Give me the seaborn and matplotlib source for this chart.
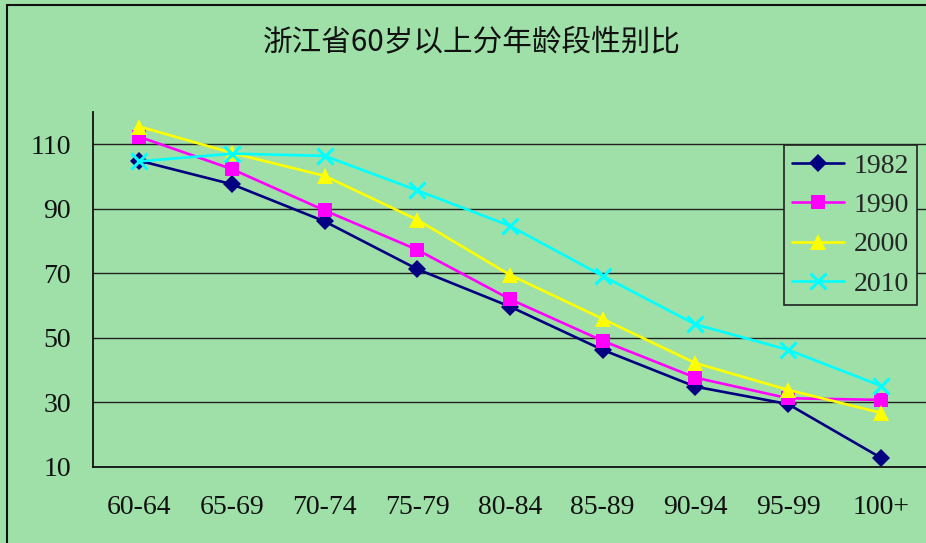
import matplotlib
matplotlib.use("Agg")
import matplotlib.pyplot as plt
import seaborn as sns
import pandas as pd
from matplotlib.patches import Rectangle
from matplotlib.ticker import FixedLocator
from matplotlib.lines import Line2D

# ---- data ----
categories = ["60-64", "65-69", "70-74", "75-79", "80-84", "85-89", "90-94", "95-99", "100+"]
years = ["1982", "1990", "2000", "2010"]
v1982 = [104.9, 97.6, 86.1, 71.3, 59.7, 46.3, 34.9, 29.5, 12.9]
v1990 = [112.3, 102.3, 89.5, 77.3, 62.0, 49.1, 37.7, 31.3, 30.8]
v2000 = [115.5, 107.3, 100.2, 86.6, 69.5, 55.9, 42.2, 33.9, 26.8]
v2010 = [104.7, 107.1, 106.4, 95.7, 84.7, 69.2, 54.2, 46.3, 35.2]
yticks = [10, 30, 50, 70, 90, 110]
title = "浙江省60岁以上分年龄段性别比"

series = {"1982": v1982, "1990": v1990, "2000": v2000, "2010": v2010}
rows = []
for yr in years:
    for c, v in zip(categories, series[yr]):
        rows.append({"age": c, "year": yr, "ratio": v})
df = pd.DataFrame(rows)

bg = "#9EE0A8"
sns.set_theme(style="white")
plt.rcParams["font.family"] = ["Liberation Serif", "DejaVu Serif"]

W, H = 926, 543
fig = plt.figure(figsize=(W / 100, H / 100), dpi=100, facecolor=bg)
ax = fig.add_axes([93 / W, 1 - 467 / H, (927 - 93) / W, (467 - 112) / H])
ax.set_facecolor(bg)

palette = {"1982": "#000080", "1990": "#FF00FF", "2000": "#FFFF00", "2010": "#00FFFF"}
markers = {"1982": "D", "1990": "s", "2000": "^", "2010": "X"}

sns.lineplot(data=df, x="age", y="ratio", hue="year", style="year",
             palette=palette, markers=markers, dashes=False, sort=False,
             linewidth=1.9, ax=ax, legend=False)

sizes = {"1982": 9, "1990": 10.5, "2000": 11, "2010": 11}
for line, yr in zip(ax.get_lines(), years):
    line.set_markersize(sizes[yr])
    line.set_markeredgewidth(0)
    if yr == "2010":
        line.set_marker("x")
        line.set_markeredgewidth(2.2)
    line.set_markerfacecolor(palette[yr])
    line.set_markeredgecolor(palette[yr])

ax.set_xlim(-0.5, len(categories) - 0.5)
ax.set_ylim(10, 120)
ax.set_yticks(yticks)
ax.set_xlabel("")
ax.set_ylabel("")
ax.yaxis.grid(True, color="#222222", linewidth=1.0)
ax.xaxis.grid(False)
ax.set_axisbelow(True)

for s in ["top", "right"]:
    ax.spines[s].set_visible(False)
for s in ["left", "bottom"]:
    ax.spines[s].set_color("#111111")
    ax.spines[s].set_linewidth(1.3)

ax.tick_params(axis="y", length=0, pad=16, labelsize=20, colors="#111111")
ax.tick_params(axis="x", which="major", length=0, pad=20, labelsize=20, colors="#111111")
ax.xaxis.set_minor_locator(FixedLocator([i + 0.5 for i in range(len(categories) - 1)]))
ax.tick_params(axis="x", which="minor", direction="in", length=6.5, width=1.0, color="#111111")

# legend
handles = []
for yr in years:
    m = markers[yr] if yr != "2010" else "x"
    handles.append(Line2D([], [], color=palette[yr], linewidth=1.9, marker=m,
                          markersize=sizes[yr], markerfacecolor=palette[yr],
                          markeredgecolor=palette[yr],
                          markeredgewidth=2.2 if yr == "2010" else 0))
leg = fig.legend(handles, years, loc="upper left",
                 bbox_to_anchor=(784 / W, 1 - 145 / H), bbox_transform=fig.transFigure,
                 fontsize=20, frameon=True, fancybox=False, borderaxespad=0,
                 borderpad=0.3, labelspacing=0.5, handlelength=1.85, handletextpad=0.35)
leg.get_frame().set_facecolor(bg)
leg.get_frame().set_edgecolor("#222222")
leg.get_frame().set_linewidth(1.2)
leg.get_frame().set_alpha(1)

fig.text(472 / W, 1 - 42 / H, title, ha="center", va="center", fontsize=21.3,
         family=["Noto Sans CJK SC", "DejaVu Sans"], color="#111111")

# outer chart border
fig.patches.append(Rectangle((7 / W, -0.05), 1.1, 1 - 5 / H + 0.05,
                             transform=fig.transFigure, fill=False,
                             edgecolor="#111111", linewidth=1.5))

fig.savefig("out.png", dpi=100, facecolor=bg)
